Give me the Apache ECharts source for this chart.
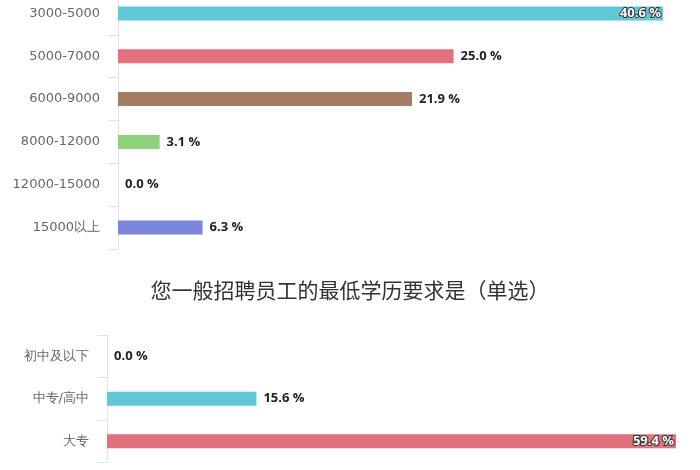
<!DOCTYPE html>
<html>
<head>
<meta charset="utf-8">
<script src="https://cdn.jsdelivr.net/npm/echarts@6/dist/echarts.min.js"></script>
<style>
html,body{margin:0;padding:0;background:#fff;overflow:hidden;}
#c{position:absolute;left:0;top:-8px;width:700px;height:478px;}
</style>
</head>
<body>
<div id="c"></div>
<script>
// Chart 1: salary ranges
const salaryCategories = ['3000-5000', '5000-7000', '6000-9000', '8000-12000', '12000-15000', '15000以上'];
const salaryValues = [40.6, 25.0, 21.9, 3.1, 0.0, 6.3];
const salaryColors = ['#5dc8d6', '#e3707a', '#a67b63', '#8bd27b', '#dddddd', '#7b86dd'];

// Chart 2: minimum education
const eduTitle = '您一般招聘员工的最低学历要求是（单选）';
const eduCategories = ['初中及以下', '中专/高中', '大专'];
const eduValues = [0.0, 15.6, 59.4];
const eduColors = ['#dddddd', '#5dc8d6', '#e3707a'];

function fmt(v){ return v.toFixed(1) + ' %'; }

function buildData(values, colors){
  const maxV = Math.max.apply(null, values);
  return values.map(function(v, i){
    const item = { value: v, itemStyle: { color: colors[i] } };
    if (v === maxV) {
      item.label = {
        position: 'insideRight', distance: 2, color: '#fff',
        textBorderColor: '#333', textBorderWidth: 2
      };
    }
    return item;
  });
}

const axisLabelStyle = { color: '#666', fontSize: 13, fontFamily: 'DejaVu Sans', margin: 18 };
const axisLineStyle = { show: true, lineStyle: { color: '#e3e3e3', width: 1 } };
const axisTickStyle = { show: true, length: 10, lineStyle: { color: '#e3e3e3' } };
const labelStyle = {
  show: true, position: 'right', distance: 7,
  fontFamily: 'Open Sans', fontWeight: 'bold', fontSize: 13, color: '#222',
  formatter: function(p){ return fmt(p.value); }
};

const chart = echarts.init(document.getElementById('c'));
chart.setOption({
  backgroundColor: '#ffffff',
  animation: false,
  title: {
    text: eduTitle, left: 'center', top: 283,
    textStyle: { fontFamily: 'Noto Sans CJK SC', fontSize: 21, fontWeight: 'normal', color: '#333' }
  },
  grid: [
    { left: 118, width: 545, top: 0, height: 257 },
    { left: 107, width: 569, top: 343, height: 127.5 }
  ],
  xAxis: [
    { type: 'value', gridIndex: 0, min: 0, max: 40.6, show: false },
    { type: 'value', gridIndex: 1, min: 0, max: 59.4, show: false }
  ],
  yAxis: [
    { type: 'category', gridIndex: 0, data: salaryCategories, inverse: true,
      axisLine: axisLineStyle, axisTick: axisTickStyle, axisLabel: axisLabelStyle, splitLine: { show: false } },
    { type: 'category', gridIndex: 1, data: eduCategories, inverse: true,
      axisLine: axisLineStyle, axisTick: axisTickStyle, axisLabel: axisLabelStyle, splitLine: { show: false } }
  ],
  series: [
    { type: 'bar', xAxisIndex: 0, yAxisIndex: 0, barWidth: 14, data: buildData(salaryValues, salaryColors), label: labelStyle },
    { type: 'bar', xAxisIndex: 1, yAxisIndex: 1, barWidth: 14, data: buildData(eduValues, eduColors), label: labelStyle }
  ]
});
</script>
</body>
</html>
